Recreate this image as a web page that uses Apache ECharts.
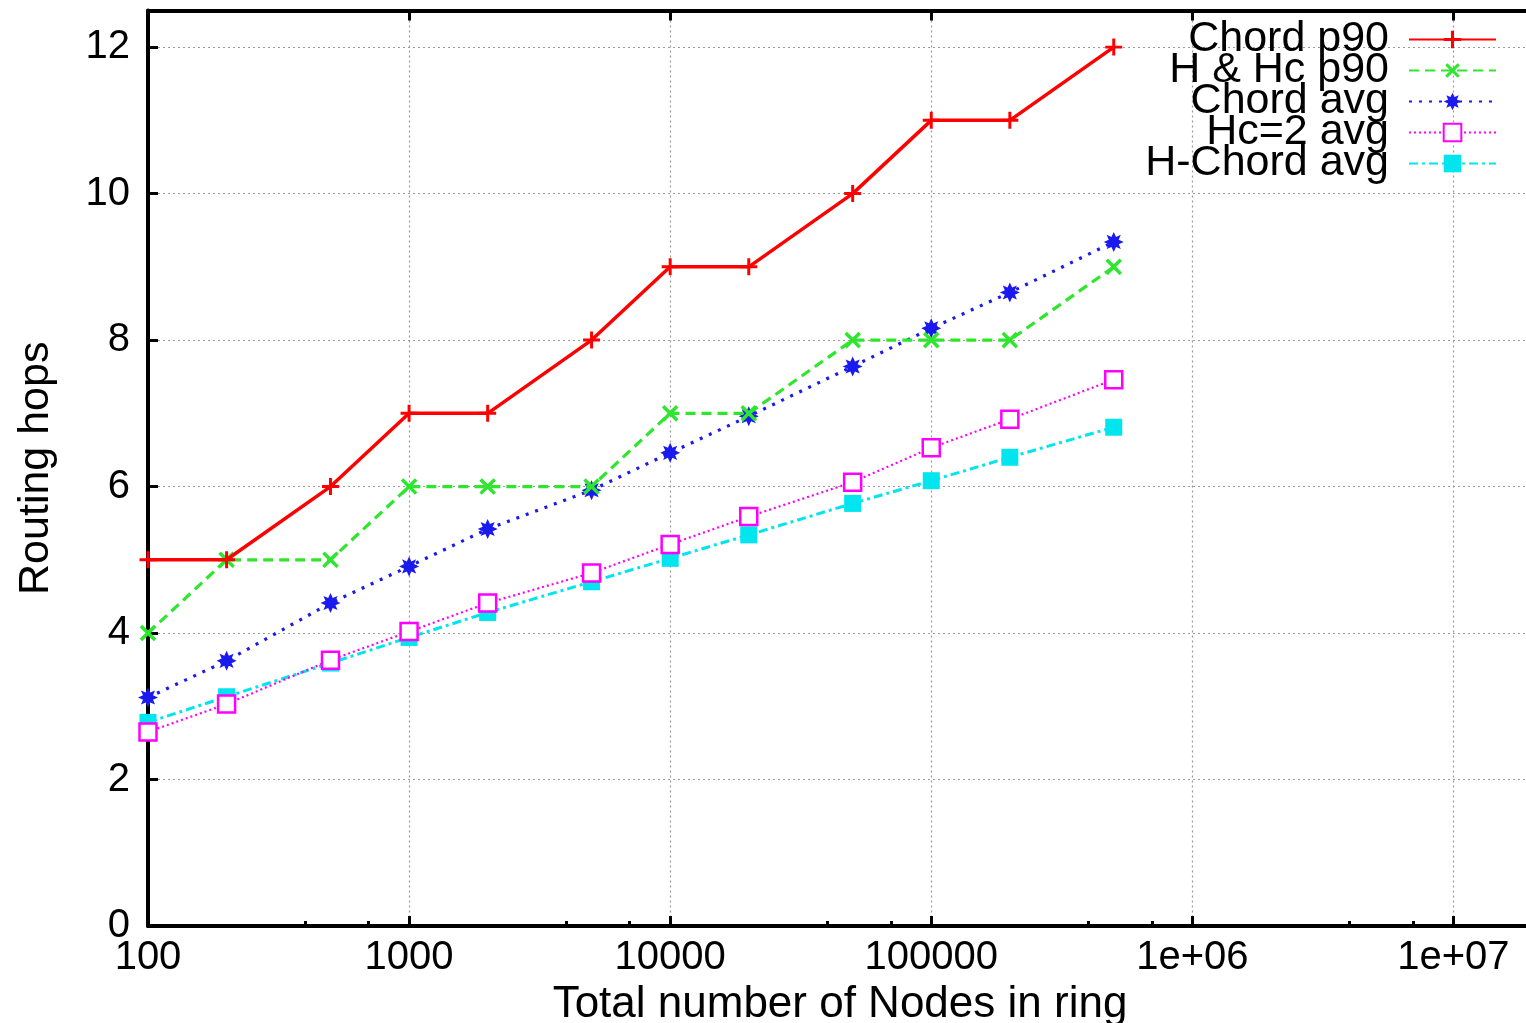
<!DOCTYPE html>
<html><head><meta charset="utf-8">
<script src="https://cdn.jsdelivr.net/npm/echarts@6/dist/echarts.min.js"></script>
<style>html,body{margin:0;padding:0;background:#fff}#c{width:1526px;height:1023px}</style>
</head><body><div id="c"></div>
<script>
const nodes = [100, 200, 500, 1000, 2000, 5000, 10000, 20000, 50000, 100000, 200000, 500000];
const seriesNames = ["Chord p90", "H & Hc p90", "Chord avg", "Hc=2 avg", "H-Chord avg"];
const chordP90 = [5, 5, 6, 7, 7, 8, 9, 9, 10, 11, 11, 12];
const hHcP90 = [4, 5, 5, 6, 6, 6, 7, 7, 8, 8, 8, 9];
const chordAvg = [3.12, 3.62, 4.41, 4.91, 5.42, 5.95, 6.46, 6.96, 7.64, 8.16, 8.65, 9.34];
const hc2Avg = [2.65, 3.03, 3.63, 4.02, 4.41, 4.82, 5.21, 5.59, 6.06, 6.53, 6.92, 7.46];
const hChordAvg = [2.78, 3.13, 3.59, 3.94, 4.28, 4.70, 5.02, 5.34, 5.77, 6.08, 6.40, 6.81];
const xTickValues = [100, 1000, 10000, 100000, 1000000, 10000000];
const xTickLabels = ["100", "1000", "10000", "100000", "1e+06", "1e+07"];
const yTickValues = [0, 2, 4, 6, 8, 10, 12];

const FONT = "Liberation Sans";
const pair = ys => nodes.map((x, i) => [x, ys[i]]);

const plusPath = 'path://M-1.4,-8L1.4,-8L1.4,-1.4L8,-1.4L8,1.4L1.4,1.4L1.4,8L-1.4,8L-1.4,1.4L-8,1.4L-8,-1.4L-1.4,-1.4Z';
const starPath = 'path://M10,0L5,2.3L7.07,7.07L2.3,5L0,10L-2.3,5L-7.07,7.07L-5,2.3L-10,0L-5,-2.3L-7.07,-7.07L-2.3,-5L0,-10L2.3,-5L7.07,-7.07L5,-2.3Z';

const chart = echarts.init(document.getElementById('c'), null, {renderer: 'canvas'});

function xFmt(v) {
  for (let i = 0; i < xTickValues.length; i++) {
    if (Math.abs(Math.log10(v) - Math.log10(xTickValues[i])) < 1e-6) return xTickLabels[i];
  }
  return '';
}

const axisLineStyle = {color: '#000', width: 4};
const gridLine = {show: true, lineStyle: {color: '#9a9a9a', width: 1.2, type: [2, 3]}};

chart.setOption({
  animation: false,
  backgroundColor: '#fff',
  grid: {left: 148, right: -6, top: 10.5, bottom: 97, containLabel: false, outerBoundsMode: 'none'},
  legend: {
    data: seriesNames,
    orient: 'vertical',
    align: 'right',
    right: 29,
    top: 18,
    padding: 0,
    itemGap: -12,
    itemWidth: 87,
    itemHeight: 22,
    textStyle: {fontFamily: FONT, fontSize: 43, color: '#000', padding: [0, 15, 0, 0]}
  },
  xAxis: [{
    type: 'log', logBase: 10, min: 100, max: 20000000,
    name: 'Total number of Nodes in ring', nameLocation: 'middle', nameGap: 50,
    nameTextStyle: {fontFamily: FONT, fontSize: 44, color: '#000'},
    axisLine: {show: true, onZero: false, lineStyle: axisLineStyle},
    axisTick: {show: true, inside: true, length: 10, lineStyle: {color: '#000', width: 3}},
    minorTick: {show: true, splitNumber: 3, length: 5, lineStyle: {color: '#000', width: 3}},
    axisLabel: {fontFamily: FONT, fontSize: 40, color: '#000', margin: 12, showMaxLabel: false, formatter: xFmt},
    splitLine: gridLine
  }, {
    type: 'log', logBase: 10, min: 100, max: 20000000, position: 'top',
    axisLine: {show: true, onZero: false, lineStyle: axisLineStyle},
    axisTick: {show: true, inside: true, length: 10, lineStyle: {color: '#000', width: 3}},
    axisLabel: {show: false},
    splitLine: {show: false}
  }],
  yAxis: [{
    type: 'value', min: 0, max: 12.5, interval: 2,
    name: 'Routing hops', nameLocation: 'middle', nameGap: 90,
    nameTextStyle: {fontFamily: FONT, fontSize: 43, color: '#000'},
    axisLine: {show: true, lineStyle: axisLineStyle},
    axisTick: {show: true, inside: true, length: 10, lineStyle: {color: '#000', width: 3}},
    axisLabel: {fontFamily: FONT, fontSize: 40, color: '#000', margin: 18, showMaxLabel: false,
      formatter: v => yTickValues.indexOf(v) >= 0 ? String(v) : ''},
    splitLine: gridLine
  }],
  series: [
    {name: seriesNames[0], type: 'line', data: pair(chordP90), symbol: plusPath, symbolSize: 17,
      lineStyle: {color: '#ff0000', width: 3.5}, itemStyle: {color: '#ff0000'}, z: 5},
    {name: seriesNames[1], type: 'line', data: pair(hHcP90), symbol: plusPath, symbolSize: 20, symbolRotate: 45,
      lineStyle: {color: '#2ee62e', width: 3.2, type: [10, 6]}, itemStyle: {color: '#2ee62e'}, z: 4},
    {name: seriesNames[2], type: 'line', data: pair(chordAvg), symbol: starPath, symbolSize: 20,
      lineStyle: {color: '#1a1aee', width: 3.2, type: [3, 7]}, itemStyle: {color: '#1a1aee'}, z: 3},
    {name: seriesNames[3], type: 'line', data: pair(hc2Avg), symbol: 'rect', symbolSize: 17,
      lineStyle: {color: '#ff00ff', width: 2.2, type: [2, 3]}, itemStyle: {color: '#fff', borderColor: '#ff00ff', borderWidth: 2.5}, z: 2},
    {name: seriesNames[4], type: 'line', data: pair(hChordAvg), symbol: 'rect', symbolSize: 17,
      lineStyle: {color: '#00e5ee', width: 3, type: [9, 4, 3, 4]}, itemStyle: {color: '#00e5ee'}, z: 1}
  ]
});
</script>
</body></html>
